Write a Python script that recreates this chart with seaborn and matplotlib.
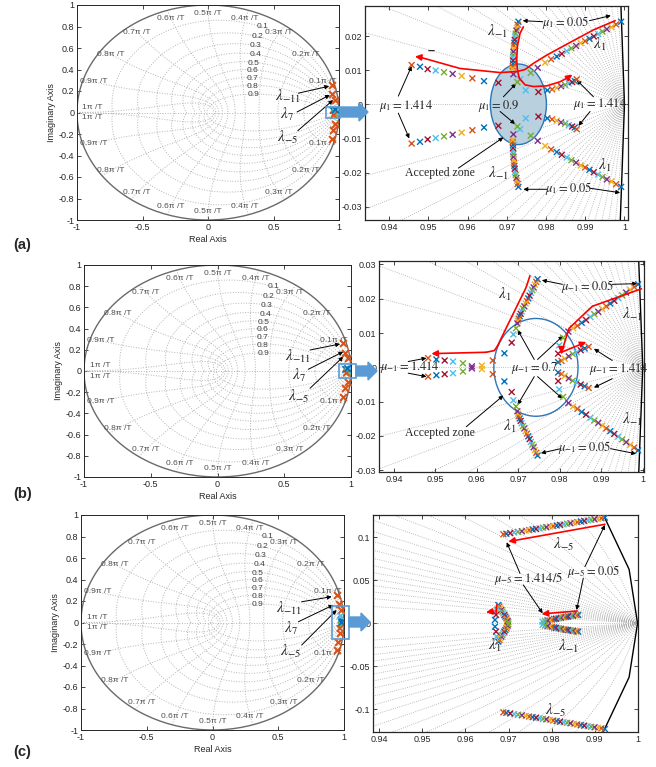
import numpy as np
import pandas as pd
import matplotlib
matplotlib.use("Agg")
import matplotlib.pyplot as plt
import seaborn as sns
from matplotlib.patches import Ellipse, Rectangle, FancyArrow
from matplotlib.ticker import FuncFormatter

sns.set_style("white")
plt.rcParams['font.family'] = ['Liberation Sans', 'DejaVu Sans']
plt.rcParams['mathtext.fontset'] = 'stix'

MCOLORS = ['#0072BD', '#D95319', '#EDB120', '#7E2F8E', '#77AC30', '#4DBEEE', '#A2142F']

# ---------------- data (upper half-plane branches; lower half = conjugates) ----------
# (a) mu_1 sweep 0.05 -> 1.414
A_L1_X = [0.99915, 0.99787, 0.99668, 0.99549, 0.99438, 0.99328, 0.99217, 0.99106, 0.98996, 0.98885,
          0.98766, 0.98647, 0.98528, 0.98400, 0.98272, 0.98128, 0.97974, 0.97787, 0.97609, 0.97336,
          0.96783, 0.96417, 0.96119, 0.95847, 0.95617, 0.95396, 0.95183, 0.94979, 0.94783, 0.94570]
A_L1_Y = [0.0242, 0.0234, 0.0226, 0.0220, 0.0213, 0.0206, 0.0199, 0.0192, 0.0185, 0.0179,
          0.0171, 0.0164, 0.0156, 0.0148, 0.0140, 0.0132, 0.0122, 0.0107, 0.0092, 0.0073,
          0.0063, 0.0068, 0.0076, 0.0083, 0.0089, 0.0094, 0.0099, 0.0103, 0.0110, 0.0115]
A_LM1_X = [0.97294, 0.97277, 0.97260, 0.97243, 0.97226, 0.97209, 0.97200, 0.97191, 0.97183, 0.97174,
           0.97166, 0.97166, 0.97157, 0.97157, 0.97157, 0.97149, 0.97149, 0.97166, 0.97268, 0.97481,
           0.97804, 0.98034, 0.98153, 0.98272, 0.98383, 0.98485, 0.98579, 0.98664, 0.98732, 0.98783]
A_LM1_Y = [0.0242, 0.0233, 0.0224, 0.0216, 0.0207, 0.0198, 0.0189, 0.0180, 0.0172, 0.0163,
           0.0154, 0.0145, 0.0137, 0.0128, 0.0119, 0.0111, 0.0104, 0.0088, 0.0065, 0.0041,
           0.0036, 0.0041, 0.0044, 0.0048, 0.0053, 0.0057, 0.0061, 0.0065, 0.0068, 0.0073]
# (b) mu_-1 sweep
B_L1_X = [0.97464, 0.97432, 0.97400, 0.97368, 0.97336, 0.97304, 0.97272, 0.97240, 0.97208, 0.97176,
          0.97144, 0.97112, 0.97080, 0.97056, 0.97032, 0.97008, 0.96992, 0.96976, 0.96944, 0.96880,
          0.96840, 0.96664, 0.96384, 0.96120, 0.95880, 0.95664, 0.95424, 0.95224, 0.95024, 0.94824]
B_L1_Y = [0.0257, 0.0249, 0.0241, 0.0233, 0.0225, 0.0217, 0.0209, 0.0201, 0.0193, 0.0186,
          0.0178, 0.0171, 0.0163, 0.0156, 0.0149, 0.0142, 0.0135, 0.0128, 0.0114, 0.0096,
          0.0072, 0.0041, 0.0020, 0.0005, 0.0003, 0.0012, 0.0017, 0.0020, 0.0023, 0.0027]
B_LM1_X = [0.99888, 0.99792, 0.99696, 0.99600, 0.99504, 0.99408, 0.99312, 0.99216, 0.99120, 0.99024,
           0.98928, 0.98832, 0.98736, 0.98632, 0.98528, 0.98424, 0.98320, 0.98208, 0.98080, 0.97984,
           0.97960, 0.97960, 0.98040, 0.98120, 0.98216, 0.98312, 0.98408, 0.98504, 0.98600, 0.98696]
B_LM1_Y = [0.0242, 0.0234, 0.0226, 0.0218, 0.0210, 0.0202, 0.0194, 0.0186, 0.0178, 0.0170,
           0.0162, 0.0155, 0.0147, 0.0138, 0.0130, 0.0121, 0.0114, 0.0104, 0.0086, 0.0064,
           0.0040, 0.0015, 0.0019, 0.0025, 0.0032, 0.0039, 0.0044, 0.0050, 0.0055, 0.0060]
# (c) mu_-5 sweep
C_L5_X = [0.9924, 0.9916, 0.9908, 0.9900, 0.9892, 0.9884, 0.9876, 0.9868, 0.9860, 0.9852,
          0.9844, 0.9836, 0.9828, 0.9820, 0.9812, 0.9804, 0.9796, 0.9788, 0.9780, 0.9772,
          0.9764, 0.9756, 0.9748, 0.9740, 0.9731, 0.9722, 0.9713, 0.9704, 0.9695, 0.9688]
C_L5_Y = [0.1229, 0.1222, 0.1216, 0.1209, 0.1203, 0.1196, 0.1190, 0.1183, 0.1176, 0.1170,
          0.1163, 0.1157, 0.1150, 0.1144, 0.1137, 0.1130, 0.1124, 0.1117, 0.1111, 0.1104,
          0.1097, 0.1091, 0.1084, 0.1078, 0.1070, 0.1063, 0.1056, 0.1048, 0.1041, 0.1035]
C_LM1_X = [0.9862, 0.9858, 0.9854, 0.9850, 0.9846, 0.9842, 0.9838, 0.9834, 0.9830, 0.9826,
           0.9822, 0.9818, 0.9814, 0.9810, 0.9806, 0.9801, 0.9796, 0.9791, 0.9785, 0.9779]
C_LM1_Y = [0.0097, 0.0094, 0.0091, 0.0088, 0.0085, 0.0081, 0.0078, 0.0075, 0.0071, 0.0068,
           0.0064, 0.0060, 0.0056, 0.0052, 0.0048, 0.0043, 0.0038, 0.0032, 0.0026, 0.0019]
C_L1_X = [0.96764, 0.96787, 0.96810, 0.96834, 0.96857, 0.96880, 0.96903, 0.96926, 0.96950, 0.96965,
          0.96981, 0.96996, 0.96725, 0.96710, 0.96686]
C_L1_Y = [0.0213, 0.0194, 0.0174, 0.0155, 0.0136, 0.0116, 0.0097, 0.0078, 0.0058, 0.0043,
          0.0027, 0.0012, 0.0155, 0.0097, 0.0039]

# harmonic poles in the full z-plane views
HARM_A_X = [0.944, 0.950, 0.970, 0.970, 0.952, 0.944]
HARM_A_Y = [0.256, 0.169, 0.116, -0.107, -0.163, -0.250]
HARM_B_X = [0.942, 0.955, 0.980, 0.980, 0.955, 0.942]
HARM_B_Y = [0.260, 0.167, 0.120, -0.105, -0.160, -0.245]
HARM_C_X = [0.949, 0.964, 0.980, 0.970, 0.957, 0.944]
HARM_C_Y = [0.256, 0.172, 0.116, -0.098, -0.178, -0.256]
CLU_A_X = [0.955, 0.965, 0.975, 0.960, 0.972]
CLU_A_Y = [0.020, -0.010, 0.005, -0.025, 0.025]
CLU_B_X = [0.960, 0.972, 0.978, 0.965, 0.975]
CLU_B_Y = [0.015, -0.012, 0.004, -0.020, 0.022]
CLU_C_X = [0.978, 0.980, 0.975, 0.970, 0.982]
CLU_C_Y = [0.023, -0.020, 0.060, -0.055, 0.000]
CLU_COLORS = [0, 4, 5, 1, 0]

ZETA_LAB = [0.1, 0.2, 0.3, 0.4, 0.5, 0.6, 0.7, 0.8, 0.9]
ZETA_LAB_X = [0.42, 0.38, 0.366, 0.36, 0.345, 0.34, 0.34, 0.34, 0.345]
ZETA_LAB_Y = [0.798, 0.705, 0.619, 0.535, 0.458, 0.389, 0.318, 0.24, 0.163]

W, H = 656, 767
fig = plt.figure(figsize=(W / 100, H / 100), dpi=100)


def px_axes(x0, y0, x1, y1):
    return fig.add_axes([x0 / W, 1 - y1 / H, (x1 - x0) / W, (y1 - y0) / H])


def fmt_tick(v, p):
    if abs(v) < 1e-12:
        return "0"
    return f"{round(v, 4):g}"


def style_axes(ax, lw=0.7):
    for s in ax.spines.values():
        s.set_color('#262626')
        s.set_linewidth(lw)
    ax.tick_params(direction='in', length=3, width=0.6, labelsize=6.5, pad=2,
                   top=True, right=True, bottom=True, left=True, labelcolor='#262626')
    ax.xaxis.set_major_formatter(FuncFormatter(fmt_tick))
    ax.yaxis.set_major_formatter(FuncFormatter(fmt_tick))


def scatter_branch(ax, xs, ys, s=18, lw=1.0, mirror=True):
    xx = list(xs) + (list(xs) if mirror else [])
    yy = list(ys) + ([-v for v in ys] if mirror else [])
    cc = [i % 7 for i in range(len(xs))] * (2 if mirror else 1)
    df = pd.DataFrame({'x': xx, 'y': yy, 'c': cc})
    sns.scatterplot(data=df, x='x', y='y', hue='c', palette=dict(enumerate(MCOLORS)),
                    marker='x', s=s, linewidth=lw, legend=False, ax=ax, zorder=4)


def arrow(ax, x0, y0, x1, y1, color='k', lw=0.7, ms=6):
    ax.annotate('', xy=(x1, y1), xytext=(x0, y0), annotation_clip=False,
                arrowprops=dict(arrowstyle='-|>', color=color, lw=lw, mutation_scale=ms,
                                shrinkA=0, shrinkB=0))


def red_path(ax, xs, ys, head):
    ax.plot(xs, ys, color='#ff0000', lw=1.2, zorder=5)
    ax.annotate('', xy=head, xytext=(xs[-1], ys[-1]),
                arrowprops=dict(arrowstyle='-|>', color='#ff0000', lw=1.2, mutation_scale=9,
                                shrinkA=0, shrinkB=0), zorder=5)


def ser(ax, x, y, s, size=8.5):
    ax.text(x, y, s, fontsize=size, ha='center', va='center', family=['Liberation Serif'], zorder=6)


GC = '#b4b4b4'


def left_panel(ax, hx, hy, cx, cy, lam_pos, lam_arrows, box):
    th = np.linspace(0, np.pi, 300)
    for z in ZETA_LAB:
        r = np.exp(-z / np.sqrt(1 - z * z) * th)
        ax.plot(r * np.cos(th), r * np.sin(th), ls=':', color=GC, lw=0.7)
        ax.plot(r * np.cos(th), -r * np.sin(th), ls=':', color=GC, lw=0.7)
    zeta = np.linspace(0, 1, 200)
    for k in range(1, 11):
        wn = k * np.pi / 10
        zz = np.exp(wn * (-zeta + 1j * np.sqrt(1 - zeta ** 2)))
        ax.plot(zz.real, zz.imag, ls=':', color=GC, lw=0.7)
        ax.plot(zz.real, -zz.imag, ls=':', color=GC, lw=0.7)
    ax.plot([-1, 1], [0, 0], ls=':', color=GC, lw=0.7)
    tc = np.linspace(0, 2 * np.pi, 201)
    ax.plot(np.cos(tc), np.sin(tc), color='#6a6a6a', lw=1.0)
    for k in range(1, 10):
        a = k * np.pi / 10
        for sg in (1, -1):
            ax.text(0.92 * np.cos(a), sg * 0.92 * np.sin(a), f"{k / 10:g}\u03c0 /T", fontsize=6,
                    color='#505050', ha='center', va='center')
    for sg in (1, -1):
        ax.text(-0.88, sg * 0.05, "1\u03c0 /T", fontsize=6, color='#505050', ha='center', va='center')
    for z, x, y in zip(ZETA_LAB, ZETA_LAB_X, ZETA_LAB_Y):
        ax.text(x, y, f"{z:g}", fontsize=6, color='#404040', ha='center', va='center')
    df = pd.DataFrame({'x': hx, 'y': hy})
    sns.scatterplot(data=df, x='x', y='y', color='#D95319', marker='x', s=24, linewidth=1.5,
                    ax=ax, zorder=4)
    df2 = pd.DataFrame({'x': cx, 'y': cy, 'c': CLU_COLORS})
    sns.scatterplot(data=df2, x='x', y='y', hue='c', palette=dict(enumerate(MCOLORS)), marker='x',
                    s=22, linewidth=1.2, legend=False, ax=ax, zorder=4)
    bx0, bx1, by0, by1 = box
    ax.add_patch(Rectangle((bx0, by0), bx1 - bx0, by1 - by0, fill=False, edgecolor='#5b9bd5',
                           lw=1.2, clip_on=False, zorder=6))
    for s, (x, y) in zip([r"$\lambda_{-11}$", r"$\lambda_{7}$", r"$\lambda_{-5}$"], lam_pos):
        ax.text(x, y, s, fontsize=11, ha='center', va='center', zorder=6)
    for (x0, y0, x1, y1) in lam_arrows:
        arrow(ax, x0, y0, x1, y1, lw=0.7, ms=6)
    ax.set_xlim(-1, 1)
    ax.set_ylim(-1, 1)
    ax.set_xticks([-1, -0.5, 0, 0.5, 1])
    ax.set_yticks(np.round(np.arange(-1, 1.01, 0.2), 1))
    style_axes(ax)
    ax.set_xlabel("Real Axis", fontsize=6.5, labelpad=2)
    ax.set_ylabel("Imaginary Axis", fontsize=6.5, labelpad=2)


def right_grid(ax):
    th = np.linspace(0, 0.35, 300)
    for z in np.arange(1, 20) * 0.05:
        r = np.exp(-z / np.sqrt(1 - z * z) * th)
        ax.plot(r * np.cos(th), r * np.sin(th), ls=':', color='#a8a8a8', lw=0.6, zorder=1)
        ax.plot(r * np.cos(th), -r * np.sin(th), ls=':', color='#a8a8a8', lw=0.6, zorder=1)
    ax.axhline(0, ls=':', color='#a8a8a8', lw=0.6, zorder=1)
    tc = np.linspace(0, 2 * np.pi, 101)
    ax.plot(np.cos(tc), np.sin(tc), color='k', lw=1.0, zorder=2)


def finish_right(ax, xlim, ylim, yticks):
    ax.set_xlim(xlim)
    ax.set_ylim(ylim)
    ax.set_xticks([0.94, 0.95, 0.96, 0.97, 0.98, 0.99, 1.0])
    ax.set_yticks(yticks)
    style_axes(ax, lw=0.9)
    ax.set_xlabel('')
    ax.set_ylabel('')


# =============== (a) =================
axL = px_axes(77, 5, 339, 220)
left_panel(axL, HARM_A_X, HARM_A_Y, CLU_A_X, CLU_A_Y,
           [(0.61, 0.147), (0.60, -0.02), (0.61, -0.23)],
           [(0.69, 0.18, 0.925, 0.245), (0.68, 0.005, 0.93, 0.163), (0.685, -0.17, 0.955, 0.116)],
           (0.898, 1.008, -0.054, 0.054))

axR = px_axes(365, 6, 628, 220)
right_grid(axR)
axR.add_patch(Ellipse((0.97294, 0), 0.0143, 0.0236, facecolor='#b9d0de', edgecolor='#2e75b6',
                      lw=1.0, zorder=1.5))
scatter_branch(axR, A_L1_X, A_L1_Y)
scatter_branch(axR, A_LM1_X, A_LM1_Y)
red_path(axR, [0.99762, 0.99209, 0.98528, 0.98017, 0.97677, 0.97464, 0.97251, 0.96826, 0.95804, 0.94783],
         [0.0245, 0.0218, 0.0176, 0.0144, 0.0120, 0.0102, 0.0096, 0.0093, 0.0105, 0.0138], (0.94655, 0.0140))
red_path(axR, [0.97421, 0.97336, 0.97268, 0.97251, 0.97268, 0.97319, 0.97464, 0.97677, 0.98017, 0.98357, 0.98570],
         [0.0227, 0.0208, 0.0169, 0.0130, 0.0100, 0.0076, 0.0057, 0.0052, 0.0054, 0.0066, 0.0079], (0.98672, 0.0087))
ser(axR, 0.96757, 0.0213, r"$\lambda_{-1}$", 11)
ser(axR, 0.98502, 0.0239, r"$\mu_1 = 0.05$", 9)
arrow(axR, 0.97915, 0.0242, 0.97404, 0.0245)
arrow(axR, 0.99106, 0.0245, 0.99651, 0.0260)
ser(axR, 0.99379, 0.0174, r"$\lambda_{1}$", 11)
axR.text(0.95055, 0.0157, '\u2013', fontsize=9, weight='bold', ha='center', va='center')
ser(axR, 0.94417, -0.0005, r"$\mu_1 = 1.414$", 9)
arrow(axR, 0.9423, 0.0024, 0.9457, 0.0112)
arrow(axR, 0.9423, -0.0026, 0.9451, -0.0100)
ser(axR, 0.96783, -0.0005, r"$\mu_1 = 0.9$", 9)
arrow(axR, 0.96911, 0.0022, 0.97234, 0.0061)
arrow(axR, 0.96826, -0.0021, 0.97209, -0.0058)
ser(axR, 0.99379, 0.0, r"$\mu_1 = 1.414$", 9)
arrow(axR, 0.99209, 0.0022, 0.98783, 0.0071)
arrow(axR, 0.99123, -0.0021, 0.98826, -0.0063)
ser(axR, 0.95294, -0.0202, "Accepted zone", 8.5)
arrow(axR, 0.95762, -0.0187, 0.96911, -0.0097)
ser(axR, 0.96783, -0.0202, r"$\lambda_{-1}$", 11)
ser(axR, 0.99506, -0.0180, r"$\lambda_{1}$", 11)
ser(axR, 0.98570, -0.0246, r"$\mu_1 = 0.05$", 9)
arrow(axR, 0.98017, -0.0249, 0.97421, -0.0249)
arrow(axR, 0.99123, -0.0246, 0.99889, -0.0259)
finish_right(axR, (0.9338, 1.0009), (-0.0339, 0.0288), [-0.03, -0.02, -0.01, 0, 0.01, 0.02])

# =============== (b) =================
axL = px_axes(84, 265, 351, 477)
left_panel(axL, HARM_B_X, HARM_B_Y, CLU_B_X, CLU_B_Y,
           [(0.603, 0.135), (0.61, -0.04), (0.61, -0.236)],
           [(0.693, 0.198, 0.918, 0.255), (0.68, 0.016, 0.942, 0.182), (0.693, -0.163, 0.942, 0.135)],
           (0.912, 1.04, -0.07, 0.07))

axR = px_axes(379, 261, 644, 472)
right_grid(axR)
axR.add_patch(Ellipse((0.97424, 0), 0.0203, 0.0285, facecolor='none', edgecolor='#2e75b6',
                      lw=1.0, zorder=1.5))
scatter_branch(axR, B_L1_X, B_L1_Y)
scatter_branch(axR, B_LM1_X, B_LM1_Y)
red_path(axR, [0.9728, 0.97184, 0.96944, 0.96704, 0.96504, 0.96424, 0.96224],
         [0.0267, 0.0232, 0.0173, 0.0114, 0.0064, 0.0049, 0.0044], (0.94904, 0.0040))
red_path(axR, [0.99968, 0.98784, 0.98224, 0.98040],
         [0.0229, 0.0178, 0.0114, 0.0044], (0.9804, 0.0040))
arrow(axR, 0.9804, 0.0044, 0.9864, 0.0074, color='#ff0000', lw=1.2, ms=9)
ser(axR, 0.9668, 0.0212, r"$\lambda_{1}$", 11)
ser(axR, 0.98664, 0.0237, r"$\mu_{-1} = 0.05$", 9)
arrow(axR, 0.98064, 0.0242, 0.97568, 0.0254)
arrow(axR, 0.99264, 0.0242, 0.99864, 0.0244)
ser(axR, 0.99744, 0.0153, r"$\lambda_{-1}$", 11)
ser(axR, 0.94384, 0.0, r"$\mu_{-1} = 1.414$", 9)
arrow(axR, 0.94344, 0.0017, 0.94784, 0.0027)
arrow(axR, 0.94344, -0.0017, 0.94784, -0.0027)
ser(axR, 0.97384, -0.0003, r"$\mu_{-1} = 0.7$", 9)
arrow(axR, 0.97384, 0.0023, 0.96984, 0.0109)
arrow(axR, 0.97464, 0.0023, 0.9808, 0.0092)
arrow(axR, 0.97384, -0.0027, 0.96984, -0.0109)
arrow(axR, 0.97464, -0.0027, 0.98064, -0.0091)
ser(axR, 0.99424, -0.0005, r"$\mu_{-1} = 1.414$", 9)
arrow(axR, 0.99264, 0.0020, 0.98824, 0.0054)
arrow(axR, 0.99264, -0.0033, 0.98824, -0.0059)
ser(axR, 0.9512, -0.0191, "Accepted zone", 8.5)
arrow(axR, 0.95744, -0.0173, 0.9664, -0.0082)
ser(axR, 0.96784, -0.0173, r"$\lambda_{1}$", 11)
ser(axR, 0.99744, -0.0153, r"$\lambda_{-1}$", 11)
ser(axR, 0.98608, -0.0235, r"$\mu_{-1} = 0.05$", 9)
arrow(axR, 0.98024, -0.0237, 0.97544, -0.0250)
arrow(axR, 0.99224, -0.0237, 0.9984, -0.0252)
finish_right(axR, (0.9364, 1.0003), (-0.0305, 0.0310), [-0.03, -0.02, -0.01, 0, 0.01, 0.02, 0.03])

# =============== (c) =================
axL = px_axes(81, 515, 344, 730)
left_panel(axL, HARM_C_X, HARM_C_Y, CLU_C_X, CLU_C_Y,
           [(0.585, 0.132), (0.595, -0.054), (0.595, -0.27)],
           [(0.678, 0.193, 0.906, 0.24), (0.653, 0.007, 0.919, 0.163), (0.678, -0.21, 0.944, 0.116)],
           (0.906, 1.04, -0.15, 0.15))

axR = px_axes(373, 515, 638, 732)
right_grid(axR)
scatter_branch(axR, C_L5_X, C_L5_Y)
scatter_branch(axR, C_LM1_X, C_LM1_Y)
scatter_branch(axR, C_L1_X, C_L1_Y)
arrow(axR, 0.99241, 0.1151, 0.96996, 0.0950, color='#ff0000', lw=1.2, ms=9)
arrow(axR, 0.98599, 0.0143, 0.97770, 0.0109, color='#ff0000', lw=1.2, ms=9)
axR.plot([0.96725, 0.96710], [0.0213, 0.0116], color='#ff0000', lw=1.2, zorder=5)
arrow(axR, 0.96725, 0.0143, 0.96477, 0.0128, color='#ff0000', lw=1.2, ms=9)
ser(axR, 0.98289, 0.0911, r"$\lambda_{-5}$", 11)
ser(axR, 0.97461, 0.0516, r"$\mu_{-5} = 1.414/5$", 9)
arrow(axR, 0.97267, 0.0581, 0.96957, 0.0942)
arrow(axR, 0.97344, 0.0446, 0.97793, 0.0116)
ser(axR, 0.98986, 0.0601, r"$\mu_{-5} = 0.05$", 9)
arrow(axR, 0.98777, 0.0659, 0.99241, 0.1143)
arrow(axR, 0.98738, 0.0523, 0.98583, 0.0155)
ser(axR, 0.96686, -0.0252, r"$\lambda_{1}$", 11)
ser(axR, 0.98390, -0.0271, r"$\lambda_{-1}$", 11)
ser(axR, 0.98103, -0.1008, r"$\lambda_{-5}$", 11)
finish_right(axR, (0.9385, 1.0001), (-0.1264, 0.1259), [-0.1, -0.05, 0, 0.05, 0.1])

# blue block arrows linking the views
for (x0, x1, yc) in [(341, 368, 112), (356, 377, 371), (349, 370, 622)]:
    fig.add_artist(FancyArrow(x0 / W, 1 - yc / H, (x1 - x0) / W, 0, width=10 / H, head_width=18 / H,
                              head_length=9 / W, length_includes_head=True, transform=fig.transFigure,
                              color='#5b9bd5', zorder=10))

for lab, yc in [("(a)", 245), ("(b)", 494), ("(c)", 752)]:
    fig.text(13 / W, 1 - yc / H, lab, fontsize=10.5, weight='bold', va='center', ha='left')

fig.savefig("out.png", dpi=100)
